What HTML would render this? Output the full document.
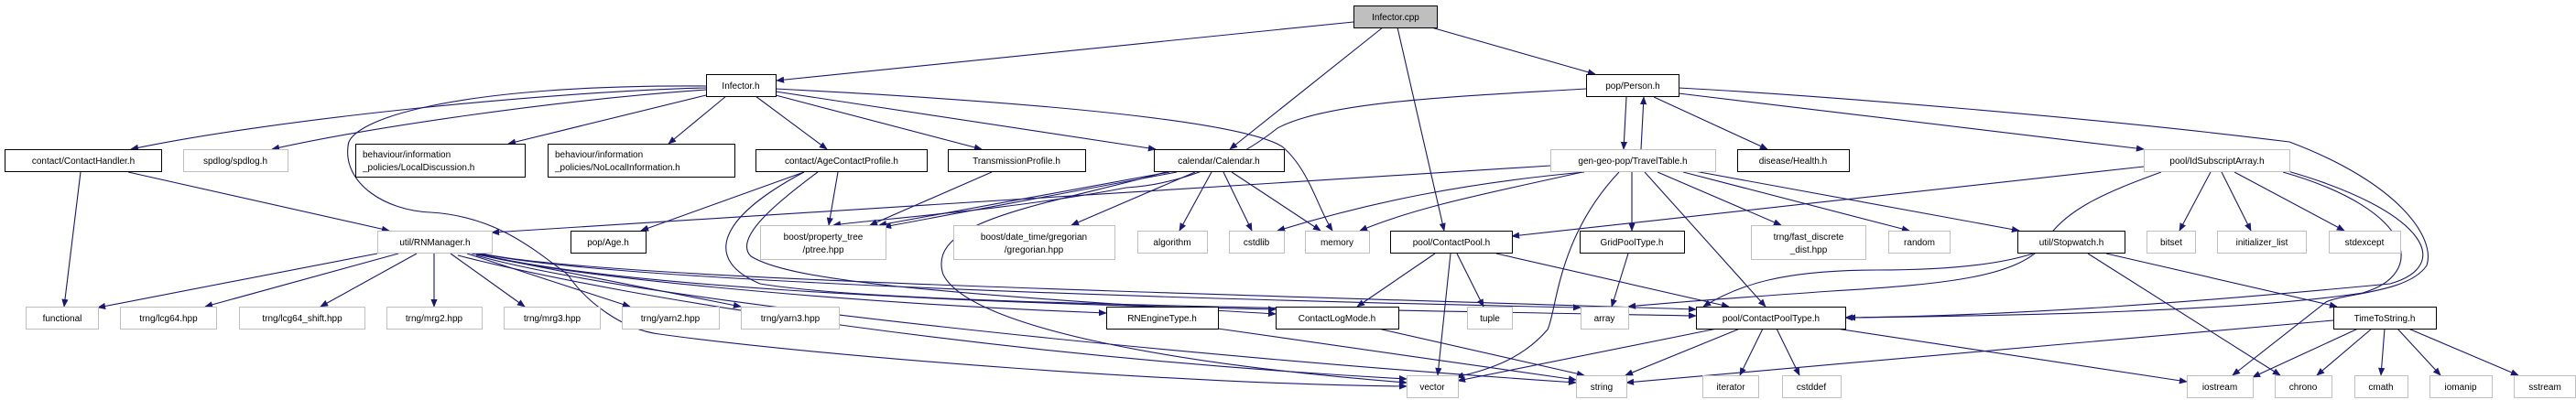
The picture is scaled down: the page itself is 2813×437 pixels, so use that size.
<!DOCTYPE html>
<html><head><meta charset="utf-8"><style>
html,body{margin:0;padding:0;background:#fff}
svg{display:block}
text{font-family:"Liberation Sans",sans-serif;font-size:10px;fill:#000}
.e{fill:none;stroke:#191970;stroke-width:1.1}
</style></head><body>
<svg width="2813" height="437" viewBox="0 0 2813 437" xmlns="http://www.w3.org/2000/svg">
<defs><marker id="a" viewBox="0 0 10 10" refX="9" refY="5" markerWidth="9" markerHeight="9" orient="auto" markerUnits="userSpaceOnUse"><path d="M0,1 L10,5 L0,9 z" fill="#191970"/></marker></defs>
<g marker-end="url(#a)">
<!-- Infector.cpp -->
<path class="e" d="M1478,24 L848,88"/>
<path class="e" d="M1510,30 L1343,163"/>
<path class="e" d="M1526,30 L1577,252"/>
<path class="e" d="M1563,30 L1742,81"/>
<!-- Infector.h -->
<path class="e" d="M771,96 C600,100 300,130 143,163"/>
<path class="e" d="M771,98 C600,110 400,140 297,163"/>
<path class="e" d="M771,104 L555,157"/>
<path class="e" d="M793,105 L730,157"/>
<path class="e" d="M825,105 L903,163"/>
<path class="e" d="M847,104 L1072,163"/>
<path class="e" d="M847,100 L1262,163"/>
<path class="e" d="M847,97 C1100,110 1350,130 1400,160 C1430,185 1440,230 1455,252"/>
<path class="e" d="M771,94 C500,92 380,130 380,160 C375,200 420,230 470,232 C540,236 580,270 620,300 C640,330 680,360 720,365 C900,390 1300,420 1536,422"/>
<!-- Person.h -->
<path class="e" d="M1732,97 C1600,105 1450,110 1395,140 C1370,160 1310,200 1230,205 C1100,230 950,240 910,246"/>
<path class="e" d="M1776,106 L1773,163"/>
<path class="e" d="M1792,163 L1795,106"/>
<path class="e" d="M1806,106 L1930,163"/>
<path class="e" d="M1833,102 L2341,163"/>
<path class="e" d="M1833,96 C2000,105 2300,130 2500,155 C2620,200 2660,260 2650,290 C2630,320 2560,320 2540,330 L2438,410"/>
<!-- ContactHandler -->
<path class="e" d="M88,188 L70,335"/>
<path class="e" d="M140,188 L425,252"/>
<!-- AgeContactProfile -->
<path class="e" d="M878,188 L700,252"/>
<path class="e" d="M915,188 L905,246"/>
<path class="e" d="M893,188 C850,220 800,260 820,280 C860,305 1000,320 1393,343"/>
<path class="e" d="M878,188 C780,240 770,285 830,310 C950,330 1300,335 1852,345"/>
<!-- TransmissionProfile -->
<path class="e" d="M1083,188 L950,246"/>
<!-- Calendar -->
<path class="e" d="M1277,188 L960,246"/>
<path class="e" d="M1285,188 L965,248"/>
<path class="e" d="M1305,188 L1170,246"/>
<path class="e" d="M1323,188 L1288,252"/>
<path class="e" d="M1336,188 L1367,252"/>
<path class="e" d="M1345,188 L1442,252"/>
<path class="e" d="M1273,188 C1140,225 1010,240 1030,300 C1060,360 1300,400 1536,418"/>
<!-- TravelTable -->
<path class="e" d="M1693,181 L537,254"/>
<path class="e" d="M1730,188 C1600,200 1500,220 1395,252"/>
<path class="e" d="M1728,188 C1630,210 1550,225 1485,252"/>
<path class="e" d="M1768,188 C1700,260 1700,340 1690,360 C1660,395 1620,405 1590,412"/>
<path class="e" d="M1782,188 L1782,252"/>
<path class="e" d="M1796,188 L1928,335"/>
<path class="e" d="M1810,188 L1945,246"/>
<path class="e" d="M1838,188 L2085,252"/>
<path class="e" d="M1845,186 L2205,252"/>
<!-- IdSubscriptArray -->
<path class="e" d="M2341,182 L1651,258"/>
<path class="e" d="M2360,188 C2300,210 2250,230 2230,270 C2200,300 2140,310 2000,318 C1900,325 1830,330 1778,335"/>
<path class="e" d="M2493,188 C2640,230 2650,300 2580,320 C2450,340 2200,345 2015,347"/>
<path class="e" d="M2495,186 C2650,230 2680,290 2610,310 C2400,330 2200,345 2018,347"/>
<path class="e" d="M2414,188 L2380,252"/>
<path class="e" d="M2426,188 L2458,252"/>
<path class="e" d="M2440,188 L2560,252"/>
<!-- ContactPool -->
<path class="e" d="M1567,277 L1482,335"/>
<path class="e" d="M1584,277 L1570,410"/>
<path class="e" d="M1591,277 L1620,335"/>
<path class="e" d="M1634,277 L1888,335"/>
<!-- GridPoolType -->
<path class="e" d="M1778,277 L1760,335"/>
<!-- Stopwatch -->
<path class="e" d="M2220,277 C2180,290 2120,295 2050,295 C1950,295 1900,310 1860,335"/>
<path class="e" d="M2280,277 L2490,410"/>
<path class="e" d="M2300,277 L2552,335"/>
<!-- RNManager -->
<path class="e" d="M412,277 L107,336"/>
<path class="e" d="M435,277 L224,335"/>
<path class="e" d="M455,277 L350,335"/>
<path class="e" d="M474,277 L474,335"/>
<path class="e" d="M492,277 L573,335"/>
<path class="e" d="M510,277 L688,335"/>
<path class="e" d="M515,277 L809,335"/>
<path class="e" d="M520,277 C600,300 900,330 1208,342"/>
<path class="e" d="M522,277 C650,310 1000,330 1393,338"/>
<path class="e" d="M525,277 C650,305 1200,325 1726,336"/>
<path class="e" d="M527,277 C650,305 1300,320 1852,338"/>
<path class="e" d="M520,279 C700,330 1300,390 1721,418"/>
<path class="e" d="M500,279 C700,330 1100,390 1536,414"/>
<!-- RNEngineType, ContactLogMode -->
<path class="e" d="M1330,359 L1721,415"/>
<path class="e" d="M1505,359 L1730,410"/>
<!-- ContactPoolType -->
<path class="e" d="M1875,359 L1592,416"/>
<path class="e" d="M1900,359 L1775,410"/>
<path class="e" d="M1925,359 L1900,410"/>
<path class="e" d="M1940,359 L1965,410"/>
<path class="e" d="M2005,359 L2388,417"/>
<!-- TimeToString -->
<path class="e" d="M2548,350 L1776,418"/>
<path class="e" d="M2575,359 L2460,412"/>
<path class="e" d="M2590,359 L2530,410"/>
<path class="e" d="M2604,359 L2600,410"/>
<path class="e" d="M2618,359 L2665,410"/>
<path class="e" d="M2630,359 L2750,410"/>
</g>
<g fill="#fff" stroke-width="1">
<rect x="1478.5" y="6.5" width="91" height="24" fill="#bfbfbf" stroke="#000"/>
<rect x="771.5" y="81.5" width="76" height="24" stroke="#000"/>
<rect x="1732.5" y="81.5" width="101" height="24" stroke="#000"/>
<rect x="5.5" y="163.5" width="171" height="24" stroke="#000"/>
<rect x="200.5" y="163.5" width="114" height="24" stroke="#bfbfbf"/>
<rect x="388.5" y="157.5" width="185" height="36" stroke="#000"/>
<rect x="598.5" y="157.5" width="204" height="36" stroke="#000"/>
<rect x="825.5" y="163.5" width="187" height="24" stroke="#000"/>
<rect x="1035.5" y="163.5" width="150" height="24" stroke="#000"/>
<rect x="1260.5" y="163.5" width="142" height="24" stroke="#000"/>
<rect x="1693.5" y="163.5" width="180" height="24" stroke="#bfbfbf"/>
<rect x="1897.5" y="163.5" width="122" height="24" stroke="#000"/>
<rect x="2341.5" y="163.5" width="159" height="24" stroke="#bfbfbf"/>
<rect x="412.5" y="252.5" width="125" height="24" stroke="#bfbfbf"/>
<rect x="623.5" y="252.5" width="82" height="24" stroke="#000"/>
<rect x="830.5" y="246.5" width="137" height="37" stroke="#bfbfbf"/>
<rect x="1041.5" y="246.5" width="176" height="37" stroke="#bfbfbf"/>
<rect x="1242.5" y="252.5" width="76" height="24" stroke="#bfbfbf"/>
<rect x="1342.5" y="252.5" width="60" height="24" stroke="#bfbfbf"/>
<rect x="1425.5" y="252.5" width="70" height="24" stroke="#bfbfbf"/>
<rect x="1518.5" y="252.5" width="133" height="24" stroke="#000"/>
<rect x="1725.5" y="252.5" width="114" height="24" stroke="#000"/>
<rect x="1912.5" y="246.5" width="125" height="37" stroke="#bfbfbf"/>
<rect x="2062.5" y="252.5" width="67" height="24" stroke="#bfbfbf"/>
<rect x="2203.5" y="252.5" width="117" height="24" stroke="#000"/>
<rect x="2344.5" y="252.5" width="53" height="24" stroke="#bfbfbf"/>
<rect x="2421.5" y="252.5" width="97" height="24" stroke="#bfbfbf"/>
<rect x="2543.5" y="252.5" width="78" height="24" stroke="#bfbfbf"/>
<rect x="28.5" y="335.5" width="79" height="24" stroke="#bfbfbf"/>
<rect x="131.5" y="335.5" width="105" height="24" stroke="#bfbfbf"/>
<rect x="261.5" y="335.5" width="137" height="24" stroke="#bfbfbf"/>
<rect x="422.5" y="335.5" width="104" height="24" stroke="#bfbfbf"/>
<rect x="550.5" y="335.5" width="105" height="24" stroke="#bfbfbf"/>
<rect x="679.5" y="335.5" width="106" height="24" stroke="#bfbfbf"/>
<rect x="809.5" y="335.5" width="107" height="24" stroke="#bfbfbf"/>
<rect x="1208.5" y="335.5" width="122" height="24" stroke="#000"/>
<rect x="1393.5" y="335.5" width="134" height="24" stroke="#000"/>
<rect x="1602.5" y="335.5" width="49" height="24" stroke="#bfbfbf"/>
<rect x="1726.5" y="335.5" width="52" height="24" stroke="#bfbfbf"/>
<rect x="1852.5" y="335.5" width="163" height="24" stroke="#000"/>
<rect x="2548.5" y="335.5" width="112" height="24" stroke="#000"/>
<rect x="1536.5" y="410.5" width="56" height="24" stroke="#bfbfbf"/>
<rect x="1721.5" y="410.5" width="55" height="24" stroke="#bfbfbf"/>
<rect x="1859.5" y="410.5" width="61" height="24" stroke="#bfbfbf"/>
<rect x="1946.5" y="410.5" width="64" height="24" stroke="#bfbfbf"/>
<rect x="2388.5" y="410.5" width="72" height="24" stroke="#bfbfbf"/>
<rect x="2484.5" y="410.5" width="62" height="24" stroke="#bfbfbf"/>
<rect x="2571.5" y="410.5" width="58" height="24" stroke="#bfbfbf"/>
<rect x="2653.5" y="410.5" width="68" height="24" stroke="#bfbfbf"/>
<rect x="2745.5" y="410.5" width="67" height="24" stroke="#bfbfbf"/>
</g>
<g text-anchor="middle">
<text x="1524" y="22">Infector.cpp</text>
<text x="809" y="97">Infector.h</text>
<text x="1783" y="97">pop/Person.h</text>
<text x="91" y="179">contact/ContactHandler.h</text>
<text x="257" y="179">spdlog/spdlog.h</text>
<text x="919" y="179">contact/AgeContactProfile.h</text>
<text x="1110" y="179">TransmissionProfile.h</text>
<text x="1331" y="179">calendar/Calendar.h</text>
<text x="1783" y="179">gen-geo-pop/TravelTable.h</text>
<text x="1958" y="179">disease/Health.h</text>
<text x="2421" y="179">pool/IdSubscriptArray.h</text>
<text x="475" y="268">util/RNManager.h</text>
<text x="664" y="268">pop/Age.h</text>
<text x="899" y="262">boost/property_tree</text>
<text x="899" y="276">/ptree.hpp</text>
<text x="1129" y="262">boost/date_time/gregorian</text>
<text x="1129" y="276">/gregorian.hpp</text>
<text x="1280" y="268">algorithm</text>
<text x="1372" y="268">cstdlib</text>
<text x="1460" y="268">memory</text>
<text x="1585" y="268">pool/ContactPool.h</text>
<text x="1782" y="268">GridPoolType.h</text>
<text x="1975" y="262">trng/fast_discrete</text>
<text x="1975" y="276">_dist.hpp</text>
<text x="2096" y="268">random</text>
<text x="2262" y="268">util/Stopwatch.h</text>
<text x="2371" y="268">bitset</text>
<text x="2470" y="268">initializer_list</text>
<text x="2582" y="268">stdexcept</text>
<text x="68" y="351">functional</text>
<text x="184" y="351">trng/lcg64.hpp</text>
<text x="330" y="351">trng/lcg64_shift.hpp</text>
<text x="474" y="351">trng/mrg2.hpp</text>
<text x="603" y="351">trng/mrg3.hpp</text>
<text x="732" y="351">trng/yarn2.hpp</text>
<text x="863" y="351">trng/yarn3.hpp</text>
<text x="1269" y="351">RNEngineType.h</text>
<text x="1460" y="351">ContactLogMode.h</text>
<text x="1627" y="351">tuple</text>
<text x="1752" y="351">array</text>
<text x="1934" y="351">pool/ContactPoolType.h</text>
<text x="2604" y="351">TimeToString.h</text>
<text x="1564" y="426">vector</text>
<text x="1749" y="426">string</text>
<text x="1890" y="426">iterator</text>
<text x="1978" y="426">cstddef</text>
<text x="2424" y="426">iostream</text>
<text x="2515" y="426">chrono</text>
<text x="2600" y="426">cmath</text>
<text x="2687" y="426">iomanip</text>
<text x="2779" y="426">sstream</text>
</g>
<text x="396" y="172">behaviour/information</text>
<text x="396" y="186">_policies/LocalDiscussion.h</text>
<text x="606" y="172">behaviour/information</text>
<text x="606" y="186">_policies/NoLocalInformation.h</text>
</svg>
</body></html>
